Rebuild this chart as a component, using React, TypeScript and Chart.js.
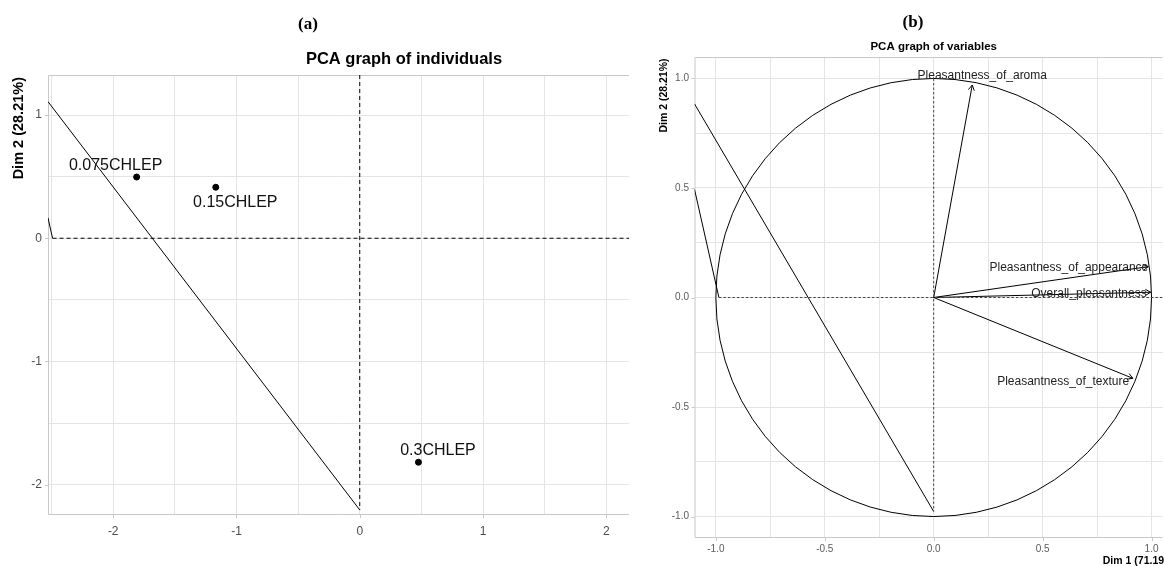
import React, { useEffect, useRef } from "react";
import { Chart, registerables } from "chart.js";

Chart.register(...registerables);

// ---------- Panel (a): PCA graph of individuals ----------
const indNames = ["0.075CHLEP", "0.15CHLEP", "0.3CHLEP"];
const indDim1 = [-1.81, -1.168, 0.476];
const indDim2 = [0.497, 0.414, -1.818];

const aXRange = [-2.529, 2.184];
const aYRange = [-2.246, 1.325];
const aDiagX = [-2.529, 0];
const aDiagY = [1.109, -2.205];
const aShortX = [-2.529, -2.492];
const aShortY = [0.165, 0];
const aTickValues = [-2, -1, 0, 1, 2];

// ---------- Panel (b): PCA graph of variables ----------
const varNames = [
  "Pleasantness_of_aroma",
  "Pleasantness_of_appearance",
  "Overall_pleasantness",
  "Pleasantness_of_texture",
];
const varDim1 = [0.177, 0.985, 0.996, 0.914];
const varDim2 = [0.97, 0.141, 0.024, -0.369];

const bXRange = [-1.098, 1.051];
const bYRange = [-1.098, 1.098];
const bDiagX = [-1.098, 0];
const bDiagY = [0.884, -0.977];
const bShortX = [-1.098, -0.986];
const bShortY = [0.494, 0];
const bCircleRadius = 1;

// ---------- styling ----------
const SANS = '"Liberation Sans", Arial, Helvetica, sans-serif';
const SERIF = '"Liberation Serif", "Times New Roman", serif';
const GRID = "#E4E4E4";
const BORDER = "#C8C8C8";

// label placement (pixel offsets from the mark) – styling, not data
const indLabelOffset: [number, number][] = [
  [-21, -11],
  [19.5, 15],
  [19.5, -11.3],
];
const varLabelPlace: { dx: number; dy: number; align: CanvasTextAlign }[] = [
  { dx: 10, dy: -9, align: "center" },
  { dx: 0, dy: 0.6, align: "right" },
  { dx: -4, dy: 1, align: "right" },
  { dx: -3.6, dy: 3.4, align: "right" },
];

const pts = (xs: number[], ys: number[]) => xs.map((x, i) => ({ x, y: ys[i] }));

function lineDs(data: { x: number; y: number }[], dash: number[] = [], color = "#000") {
  return {
    data,
    showLine: true,
    pointRadius: 0,
    pointHoverRadius: 0,
    borderColor: color,
    backgroundColor: color,
    borderWidth: 1,
    borderDash: dash,
    fill: false,
  };
}

function drawFrame(chart: any) {
  const { ctx, chartArea: a, scales } = chart;
  ctx.save();
  ctx.strokeStyle = BORDER;
  ctx.lineWidth = 1;
  ctx.beginPath();
  ctx.moveTo(a.right, a.top + 0.5);
  ctx.lineTo(a.left + 0.5, a.top + 0.5);
  ctx.lineTo(a.left + 0.5, a.bottom - 0.5);
  ctx.lineTo(a.right, a.bottom - 0.5);
  ctx.stroke();
  // small tick marks at the labelled ticks
  const T = 3;
  scales.x.ticks.forEach((t: any, i: number) => {
    if (!t.label) return;
    const px = Math.round(scales.x.getPixelForTick(i)) + 0.5;
    ctx.beginPath();
    ctx.moveTo(px, a.bottom);
    ctx.lineTo(px, a.bottom + T);
    ctx.stroke();
  });
  scales.y.ticks.forEach((t: any, i: number) => {
    if (!t.label) return;
    const py = Math.round(scales.y.getPixelForTick(i)) + 0.5;
    ctx.beginPath();
    ctx.moveTo(a.left, py);
    ctx.lineTo(a.left - T, py);
    ctx.stroke();
  });
  ctx.restore();
}

function drawText(
  ctx: CanvasRenderingContext2D,
  text: string,
  x: number,
  y: number,
  font: string,
  color: string,
  align: CanvasTextAlign = "center",
  rotate = false
) {
  ctx.save();
  ctx.font = font;
  ctx.fillStyle = color;
  ctx.textAlign = align;
  ctx.textBaseline = "middle";
  if (rotate) {
    ctx.translate(x, y);
    ctx.rotate(-Math.PI / 2);
    ctx.fillText(text, 0, 0);
  } else {
    ctx.fillText(text, x, y);
  }
  ctx.restore();
}

const panelAPlugin = {
  id: "panelA",
  beforeDatasetsDraw(chart: any) {
    drawFrame(chart);
  },
  afterDatasetsDraw(chart: any) {
    const { ctx, scales } = chart;
    const x = scales.x;
    const y = scales.y;
    indNames.forEach((n, i) => {
      const px = x.getPixelForValue(indDim1[i]) + indLabelOffset[i][0];
      const py = y.getPixelForValue(indDim2[i]) + indLabelOffset[i][1];
      drawText(ctx, n, px, py, `16px ${SANS}`, "#111");
    });
  },
  afterDraw(chart: any) {
    const { ctx, chartArea } = chart;
    drawText(ctx, "(a)", 308, 25, `bold 17px ${SERIF}`, "#000");
    drawText(ctx, "PCA graph of individuals", 404, 59, `bold 16.5px ${SANS}`, "#000");
    drawText(ctx, "Dim 2 (28.21%)", 18.5, chartArea.top + 2, `bold 14.5px ${SANS}`, "#000", "right", true);
  },
};

const panelBPlugin = {
  id: "panelB",
  beforeDatasetsDraw(chart: any) {
    drawFrame(chart);
    const { ctx, scales, chartArea: a } = chart;
    const x = scales.x;
    const y = scales.y;
    const cx = x.getPixelForValue(0);
    const cy = y.getPixelForValue(0);
    const rx = x.getPixelForValue(bCircleRadius) - cx;
    const ry = cy - y.getPixelForValue(bCircleRadius);
    ctx.save();
    ctx.beginPath();
    ctx.rect(a.left, a.top, a.right - a.left, a.bottom - a.top);
    ctx.clip();
    ctx.beginPath();
    ctx.ellipse(cx, cy, rx, ry, 0, 0, Math.PI * 2);
    ctx.strokeStyle = "#000";
    ctx.lineWidth = 1;
    ctx.stroke();
    ctx.restore();
  },
  afterDatasetsDraw(chart: any) {
    const { ctx, scales } = chart;
    const x = scales.x;
    const y = scales.y;
    const ox = x.getPixelForValue(0);
    const oy = y.getPixelForValue(0);
    ctx.save();
    ctx.strokeStyle = "#000";
    ctx.lineWidth = 1;
    varNames.forEach((_, i) => {
      const tx = x.getPixelForValue(varDim1[i]);
      const ty = y.getPixelForValue(varDim2[i]);
      const ang = Math.atan2(ty - oy, tx - ox);
      const L = 6;
      ctx.beginPath();
      ctx.moveTo(tx - L * Math.cos(ang - Math.PI / 6), ty - L * Math.sin(ang - Math.PI / 6));
      ctx.lineTo(tx, ty);
      ctx.lineTo(tx - L * Math.cos(ang + Math.PI / 6), ty - L * Math.sin(ang + Math.PI / 6));
      ctx.stroke();
    });
    ctx.restore();
    varNames.forEach((n, i) => {
      const p = varLabelPlace[i];
      const tx = x.getPixelForValue(varDim1[i]) + p.dx;
      const ty = y.getPixelForValue(varDim2[i]) + p.dy;
      drawText(ctx, n, tx, ty, `12px ${SANS}`, "#222", p.align);
    });
  },
  afterDraw(chart: any) {
    const { ctx, chartArea, scales } = chart;
    const x = scales.x;
    drawText(ctx, "(b)", 279, 23, `bold 17px ${SERIF}`, "#000");
    drawText(ctx, "PCA graph of variables", x.getPixelForValue(0), 47, `bold 11.5px ${SANS}`, "#000");
    drawText(ctx, "Dim 2 (28.21%)", 30.5, chartArea.top + 1.5, `bold 10.5px ${SANS}`, "#000", "right", true);
    drawText(ctx, "Dim 1 (71.19%)", x.getPixelForValue(-bXRange[0]) + 4, 561, `bold 10.5px ${SANS}`, "#000", "right");
  },
};

function axis(
  range: number[],
  step: number,
  fmt: (v: number) => string,
  fontSize: number,
  color: string,
  padding: number,
  fit: (s: any) => void
) {
  return {
    type: "linear" as const,
    min: range[0],
    max: range[1],
    afterFit: fit,
    border: { display: false },
    grid: { color: GRID, lineWidth: 1, drawTicks: false },
    ticks: {
      stepSize: step,
      includeBounds: false,
      autoSkip: false,
      maxRotation: 0,
      padding,
      color,
      font: { family: SANS, size: fontSize },
      callback: (v: any) => fmt(Number(v)),
    },
  };
}

function configA(): any {
  return {
    type: "scatter",
    data: {
      datasets: [
        lineDs(pts(aDiagX, aDiagY)),
        lineDs(pts(aShortX, aShortY)),
        lineDs(pts([aShortX[1], aXRange[1]], [0, 0]), [4, 3]),
        lineDs(pts([0, 0], [aYRange[1], aDiagY[1]]), [4, 3]),
        {
          data: pts(indDim1, indDim2),
          pointRadius: 3,
          pointBackgroundColor: "#000",
          pointBorderColor: "#000",
          showLine: false,
        },
      ],
    },
    options: {
      responsive: false,
      animation: false,
      devicePixelRatio: 1,
      layout: { padding: { top: 75, right: 4, left: 0, bottom: 0 } },
      plugins: { legend: { display: false }, tooltip: { enabled: false }, title: { display: false } },
      scales: {
        x: axis(
          aXRange,
          0.5,
          (v) => (aTickValues.includes(v) ? String(v) : ""),
          12,
          "#4D4D4D",
          9,
          (s) => {
            s.height = 51;
          }
        ),
        y: axis(
          aYRange,
          0.5,
          (v) => (aTickValues.includes(v) ? String(v) : ""),
          12,
          "#4D4D4D",
          6,
          (s) => {
            s.width = 48;
          }
        ),
      },
    },
    plugins: [panelAPlugin],
  };
}

const halfFmt = (v: number) =>
  Math.abs(v * 2 - Math.round(v * 2)) < 1e-9 ? (Math.abs(v) < 1e-9 ? 0 : v).toFixed(1) : "";

function configB(): any {
  return {
    type: "scatter",
    data: {
      datasets: [
        lineDs(pts([bShortX[1], bXRange[1]], [0, 0]), [2.5, 2], "#444"),
        lineDs(pts([0, 0], [bCircleRadius, bDiagY[1]]), [2.5, 2], "#444"),
        lineDs(pts(bDiagX, bDiagY)),
        lineDs(pts(bShortX, bShortY)),
        ...varNames.map((_, i) => lineDs(pts([0, varDim1[i]], [0, varDim2[i]]))),
      ],
    },
    options: {
      responsive: false,
      animation: false,
      devicePixelRatio: 1,
      layout: { padding: { top: 57, right: 0, left: 0, bottom: 0 } },
      plugins: { legend: { display: false }, tooltip: { enabled: false }, title: { display: false } },
      scales: {
        x: axis(bXRange, 0.25, halfFmt, 10, "#5C5C5C", 5.5, (s) => {
          s.height = 28;
        }),
        y: axis(bYRange, 0.25, halfFmt, 10, "#5C5C5C", 5.5, (s) => {
          s.width = 60.5;
        }),
      },
    },
    plugins: [panelBPlugin],
  };
}

export default function App() {
  const aRef = useRef<HTMLCanvasElement>(null);
  const bRef = useRef<HTMLCanvasElement>(null);
  useEffect(() => {
    const ca = new Chart(aRef.current as HTMLCanvasElement, configA());
    const cb = new Chart(bRef.current as HTMLCanvasElement, configB());
    return () => {
      ca.destroy();
      cb.destroy();
    };
  }, []);
  return (
    <div
      style={{
        position: "fixed",
        left: 0,
        top: 0,
        width: 1164,
        height: 566,
        background: "#fff",
        overflow: "hidden",
      }}
    >
      <canvas
        ref={aRef}
        width={634}
        height={566}
        style={{ position: "absolute", left: 0, top: 0, width: 634, height: 566 }}
      />
      <canvas
        ref={bRef}
        width={530}
        height={566}
        style={{ position: "absolute", left: 634, top: 0, width: 530, height: 566 }}
      />
    </div>
  );
}
